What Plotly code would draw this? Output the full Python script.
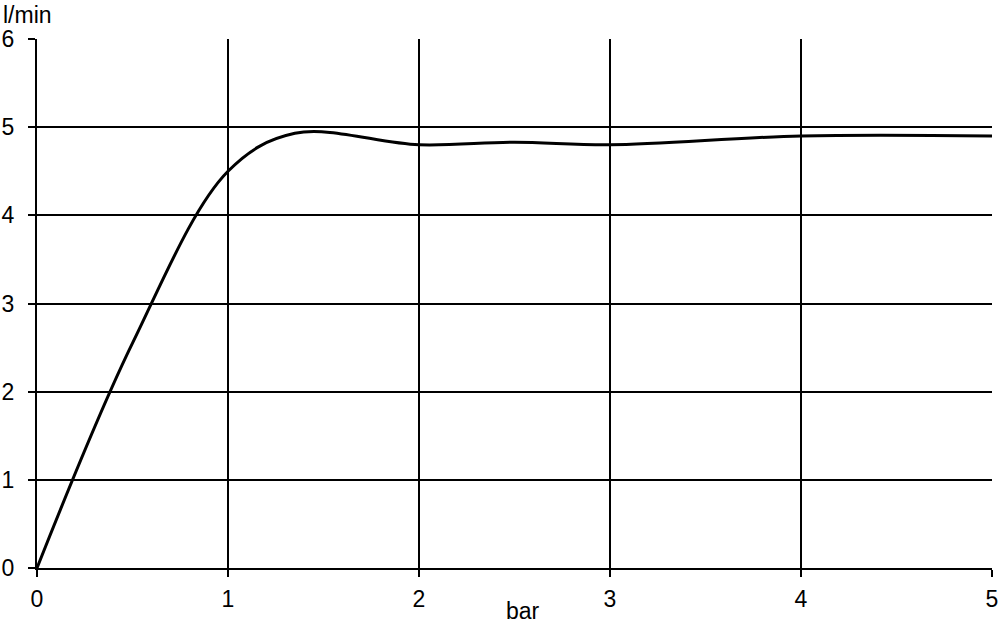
import plotly.graph_objects as go

# Data
pressure_bar = [0, 0.5, 1.0, 1.35, 2.0, 2.5, 3.0, 4.0, 5.0]
flow_lpm = [0, 2.55, 4.5, 4.93, 4.8, 4.83, 4.8, 4.9, 4.9]

x_ticks = [0, 1, 2, 3, 4, 5]
y_ticks = [0, 1, 2, 3, 4, 5, 6]
x_grid = [1, 2, 3, 4]
y_grid = [1, 2, 3, 4, 5]

FONT = "Liberation Sans, Arial, sans-serif"
FS = 23
TICKFONT = dict(family=FONT, size=FS, color="black")

fig = go.Figure()
# invisible trace to activate the grid axes
fig.add_trace(go.Scatter(x=[0], y=[0], xaxis="x2", yaxis="y2", mode="markers",
                         marker=dict(opacity=0), showlegend=False, hoverinfo="skip"))
fig.add_trace(go.Scatter(
    x=pressure_bar, y=flow_lpm, mode="lines",
    line=dict(color="black", width=3, shape="spline", smoothing=1.0),
    hoverinfo="skip", showlegend=False,
))

fig.update_layout(
    width=1000, height=625,
    margin=dict(l=37, r=8, t=39, b=57, autoexpand=False),
    paper_bgcolor="white", plot_bgcolor="white",
    font=dict(family=FONT, size=FS, color="black"),
    xaxis=dict(range=[0, 5], tickvals=x_ticks, showgrid=False, zeroline=False,
               showline=True, linecolor="black", linewidth=2, automargin=False,
               ticks="outside", ticklen=7, tickwidth=2, tickcolor="black",
               tickfont=TICKFONT, ticklabelstandoff=2, fixedrange=True),
    yaxis=dict(range=[0, 6], tickvals=y_ticks, showgrid=False, zeroline=False,
               showline=True, linecolor="black", linewidth=2, automargin=False,
               ticks="outside", ticklen=7, tickwidth=2, tickcolor="black",
               tickfont=TICKFONT, ticklabelstandoff=9, fixedrange=True),
    xaxis2=dict(range=[0, 5], tickvals=x_grid, showgrid=True, gridcolor="black",
                gridwidth=2, showticklabels=False, overlaying="x", zeroline=False,
                automargin=False, fixedrange=True),
    yaxis2=dict(range=[0, 6], tickvals=y_grid, showgrid=True, gridcolor="black",
                gridwidth=2, showticklabels=False, overlaying="y", zeroline=False,
                automargin=False, fixedrange=True),
    annotations=[
        dict(text="l/min", xref="paper", yref="paper", x=0, y=1,
             xanchor="left", yanchor="bottom", xshift=-35, yshift=10,
             borderpad=0, showarrow=False, font=dict(family=FONT, size=FS)),
        dict(text="bar", xref="paper", yref="paper", x=0.5, y=0,
             xanchor="center", yanchor="top", xshift=8, yshift=-28,
             showarrow=False, font=dict(family=FONT, size=FS)),
    ],
)

fig.write_html("out.html", config={"displayModeBar": False},
               post_script="document.body.style.margin='0px';")
